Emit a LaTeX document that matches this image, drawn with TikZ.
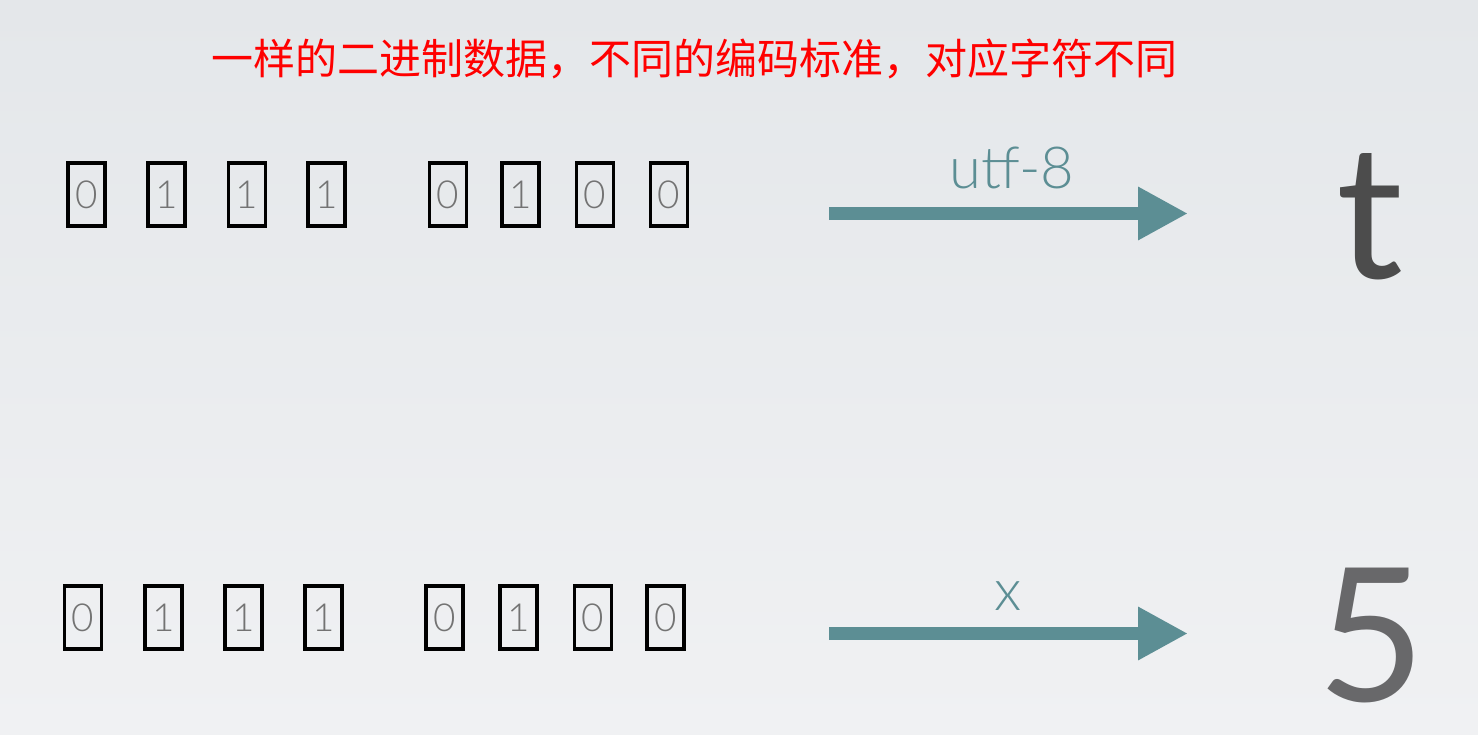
\documentclass[tikz,border=0pt]{standalone}
\usepackage{fontspec}
\setmainfont{Lato}[UprightFont=* Light]
\newfontfamily\regfont{Lato}
\newfontfamily\cjk{Noto Sans CJK SC}
\usetikzlibrary{arrows.meta,positioning}
\definecolor{bgTop}{RGB}{228,231,234}
\definecolor{bgBottom}{RGB}{240,241,243}
\definecolor{arrowTeal}{RGB}{92,142,148}
\definecolor{digitGray}{RGB}{115,115,115}
\definecolor{charDark}{RGB}{76,76,76}
\definecolor{charGray}{RGB}{104,104,106}

\begin{document}
\begin{tikzpicture}[
    bitbox/.style={draw=black, line width=2.2pt, minimum width=0.74cm,
        minimum height=1.26cm, inner sep=0pt, text=digitGray,
        font=\fontsize{22}{22}\selectfont},
    convarrow/.style={arrowTeal, line width=0.25cm,
        -{Triangle[length=1cm,width=1cm]}},
    codelabel/.style={text=arrowTeal, font=\fontsize{33}{33}\selectfont, anchor=base},
    bigchar/.style={font=\regfont\fontsize{106}{106}\selectfont, anchor=base, inner sep=0pt},
]
    % Background
    \shade[top color=bgTop, bottom color=bgBottom] (0,0) rectangle (29.56,14.68);
    \useasboundingbox (0,0) rectangle (29.56,14.68);

    % Title
    \node[text=red, font=\cjk\fontsize{23.9}{24}\selectfont] (title) at (13.89,13.50)
        {一样的二进制数据，不同的编码标准，对应字符不同};

    % Bits, top row
    \foreach \x/\b [count=\i] in {1.73/0,3.33/1,4.94/1,6.53/1,8.96/0,10.41/1,11.90/0,13.38/0}
        \node[bitbox] (top\i) at (\x,10.79) {\b};

    % Bits, bottom row
    \foreach \x/\b [count=\i] in {1.66/0,3.27/1,4.87/1,6.47/1,8.89/0,10.37/1,11.86/0,13.31/0}
        \node[bitbox] (bot\i) at (\x,2.33) {\b};

    % utf-8 decoding
    \coordinate (topstart) at (16.58,10.41);
    \coordinate (topend) at (23.76,10.41);
    \draw[convarrow] (topstart) -- (topend)
        node[codelabel, pos=0.51, yshift=0.50cm] (utf) {utf-8};
    \node[bigchar, text=charDark] (tchar) at (27.40,9.12) {t};

    % other decoding
    \coordinate (botstart) at (16.58,2.01);
    \coordinate (botend) at (23.76,2.01);
    \draw[convarrow] (botstart) -- (botend)
        node[codelabel, pos=0.5, yshift=0.47cm] (other) {x};
    \node[bigchar, text=charGray] (fivechar) at (27.44,0.66) {5};
\end{tikzpicture}
\end{document}
